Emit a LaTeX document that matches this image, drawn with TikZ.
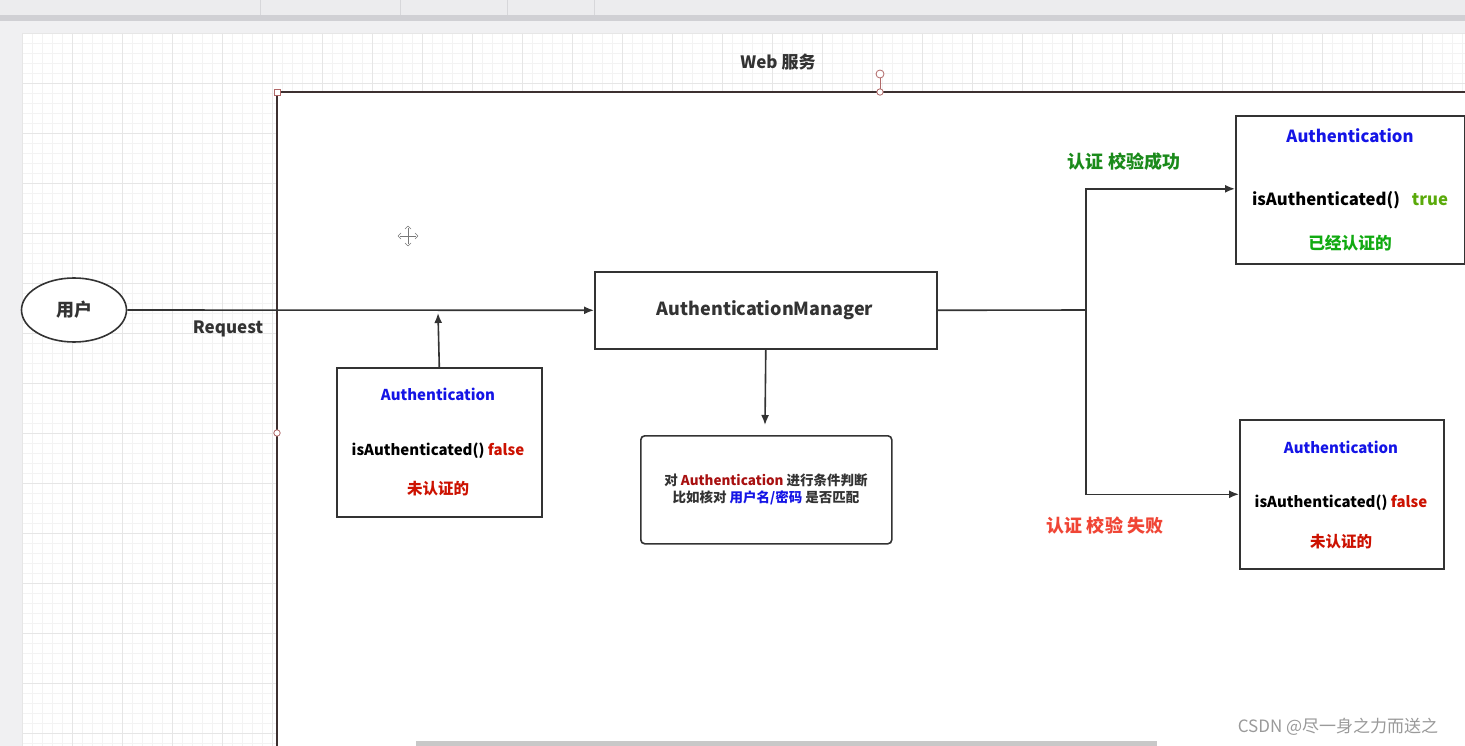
\documentclass[tikz,border=0pt]{standalone}
\usepackage{fontspec}
\setmainfont{Noto Sans CJK SC}
\usetikzlibrary{arrows.meta,shapes.geometric}
\definecolor{ink}{HTML}{333333}
\definecolor{authblue}{HTML}{1414E6}
\definecolor{falsered}{HTML}{CC1100}
\definecolor{truegreen}{HTML}{5AAA0A}
\definecolor{okgreen}{HTML}{11AA11}
\definecolor{lblgreen}{HTML}{1A8A1A}
\definecolor{lblred}{HTML}{F04535}
\definecolor{darkred}{HTML}{A81010}
\definecolor{handle}{HTML}{B06868}
\definecolor{gridminor}{HTML}{F3F3F3}
\definecolor{gridmajor}{HTML}{E6E6E6}
\definecolor{chromebg}{HTML}{F0F0F2}
\definecolor{chrometop}{HTML}{ECECEE}
\definecolor{chromediv}{HTML}{D7D7DA}
\definecolor{chromeband}{HTML}{D0D0D4}
\definecolor{frame}{HTML}{3C3030}
\definecolor{cursor}{HTML}{787878}
\definecolor{scroll}{HTML}{C8C8C8}
\definecolor{wmgray}{HTML}{9A9A9A}
\tikzset{
  box/.style={draw=ink, line width=1.6pt, fill=white, inner sep=0pt, anchor=north west},
  txt/.style={inner sep=0pt, font=\fontsize{15}{18}\selectfont\bfseries},
  bigtxt/.style={inner sep=0pt, font=\fontsize{16.7}{20}\selectfont\bfseries},
  conn/.style={draw=ink, line width=1.6pt, -{Latex[length=10pt,width=8pt]}},
  plain/.style={draw=ink, line width=1.6pt},
  hnd/.style={draw=handle, fill=white, line width=0.8pt},
}
\begin{document}
\begin{tikzpicture}[x=1pt,y=-1pt]
\useasboundingbox (0,0) rectangle (1465,746);
% editor chrome
\fill[chromebg] (0,0) rectangle (1465,746);
\fill[chrometop] (0,0) rectangle (1465,15);
\foreach \dx in {260,400,507,594} \draw[chromediv] (\dx,0) -- (\dx,15);
\fill[chromeband] (0,15) rectangle (1465,21);
% canvas
\fill[white] (22,33) rectangle (1465,746);
\begin{scope}
\clip (22,33) rectangle (1465,746);
\foreach \gx in {22,32,...,1465} \draw[gridminor, line width=0.6pt] (\gx,33) -- (\gx,746);
\foreach \gy in {33,43,...,746} \draw[gridminor, line width=0.6pt] (22,\gy) -- (1465,\gy);
\foreach \gx in {22,72,...,1465} \draw[gridmajor, line width=0.7pt] (\gx,33) -- (\gx,746);
\foreach \gy in {33,83,...,746} \draw[gridmajor, line width=0.7pt] (22,\gy) -- (1465,\gy);
\end{scope}
% container
\fill[white] (277,92) rectangle (1465,746);
\draw[frame, line width=1.7pt] (277,746) -- (277,92) -- (1465,92);
\node[txt, text=ink, font=\fontsize{17}{20}\selectfont\bfseries] (title) at (778,62) {Web 服务};
% handles
\draw[handle, line width=0.8pt] (880,74) -- (880,92);
\draw[hnd] (274,89) rectangle (280,95);
\draw[hnd] (880,74) circle (4);
\draw[hnd] (880,92) circle (3.2);
\draw[hnd] (277,433) circle (3.2);
% move cursor
\begin{scope}[draw=cursor, line width=0.6pt]
\draw (400,236) -- (416,236);
\draw (408,228) -- (408,244);
\draw (398,236) -- (401,233) (398,236) -- (401,239);
\draw (418,236) -- (415,233) (418,236) -- (415,239);
\draw (408,226) -- (405,229) (408,226) -- (411,229);
\draw (408,246) -- (405,243) (408,246) -- (411,243);
\end{scope}
% user
\node[draw=ink, line width=1.6pt, ellipse, fill=white, minimum width=105pt, minimum height=64pt, inner sep=0pt, font=\fontsize{18}{20}\selectfont\bfseries, text=ink] (user) at (74,310) {用户};
\node[txt, text=ink, font=\fontsize{17}{20}\selectfont\bfseries] (req) at (228,329) {Request};
% manager
\node[box, minimum width=342pt, minimum height=77pt] (am) at (594,271) {};
\node[txt, text=ink, font=\fontsize{18}{20}\selectfont\bfseries] (amtxt) at (765,310) {AuthenticationManager};
\draw[conn] (user.east) -- (am.west);
% left authentication
\node[box, minimum width=205pt, minimum height=149pt] (a1) at (336,367) {};
\node[txt, text=authblue] (a1t) at (438,394) {Authentication};
\node[txt, text=black] (a1m) at (438,451) {isAuthenticated() \textcolor{falsered}{false}};
\node[txt, text=falsered, font=\fontsize{15.5}{18}\selectfont\bfseries] (a1b) at (438,489) {未认证的};
\coordinate (a1end) at (438,313);
\draw[conn] (a1.north) -- (a1end);
% check box
\node[box, rounded corners=4pt, minimum width=251pt, minimum height=108pt] (chk) at (640,435) {};
\node[inner sep=0pt, align=center, text=ink, font=\fontsize{13.5}{17}\selectfont\bfseries] (chkt) at (766,489.5)
  {对 \textcolor{darkred}{Authentication} 进行条件判断\\比如核对 \textcolor{authblue}{用户名/密码} 是否匹配};
\coordinate (chkend) at (765,425);
\draw[conn] (am.south) -- (chkend);
% right top
\node[box, minimum width=229pt, minimum height=148pt] (ok) at (1235,115) {};
\node[bigtxt, text=authblue] (okt) at (1350,136) {Authentication};
\node[bigtxt, text=black] (okm) at (1350,200) {isAuthenticated()\hspace{12pt}\textcolor{truegreen}{true}};
\node[bigtxt, text=okgreen] (okb) at (1350,243) {已经认证的};
% right bottom
\node[box, minimum width=204pt, minimum height=149pt] (fail) at (1239,419) {};
\node[txt, text=authblue] (failt) at (1341,447) {Authentication};
\node[txt, text=black] (failm) at (1341,503) {isAuthenticated() \textcolor{falsered}{false}};
\node[txt, text=falsered, font=\fontsize{15.5}{18}\selectfont\bfseries] (failb) at (1341,542) {未认证的};
% split connectors
\coordinate (split) at (1086,310);
\draw[plain] (am.east) -- (split);
\draw[conn] (split) |- ([yshift=1pt]ok.west);
\draw[conn] (split) |- (fail.west);
\node[txt, text=lblgreen, font=\fontsize{18}{20}\selectfont\bfseries] (oklbl) at (1124,162) {认证 校验成功};
\node[txt, text=lblred, font=\fontsize{18}{20}\selectfont\bfseries] (faillbl) at (1105,526) {认证 校验 失败};
% scrollbar and watermark
\fill[scroll] (416,741) rectangle (1157,746);
\node[inner sep=0pt, text=wmgray, font=\fontsize{17}{20}\selectfont] (wm) at (1338,727) {CSDN @尽一身之力而送之};
\end{tikzpicture}
\end{document}
